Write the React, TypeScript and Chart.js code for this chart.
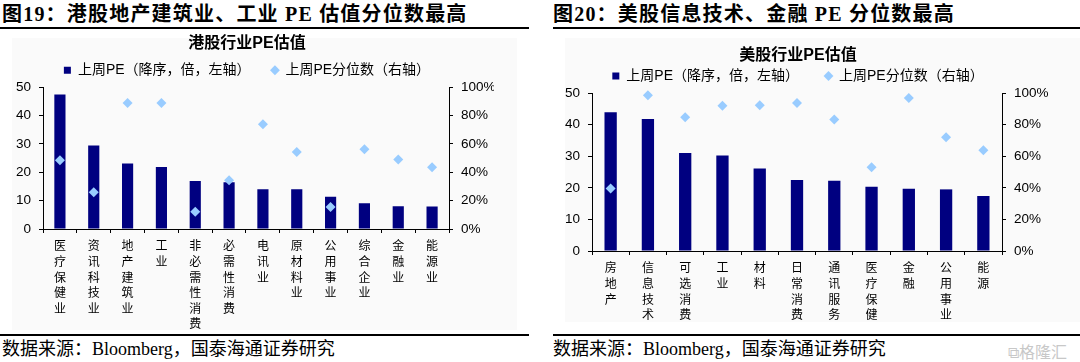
import React, { useEffect, useRef } from "react";
import { Chart, registerables } from "chart.js";

Chart.register(...registerables);

// ---------- data ----------
const hkCategories = ["医疗保健业", "资讯科技业", "地产建筑业", "工业", "非必需性消费", "必需性消费", "电讯业", "原材料业", "公用事业", "综合企业", "金融业", "能源业"];
const hkPE = [47.4, 29.4, 23.1, 21.9, 16.9, 16.5, 14.0, 14.0, 11.4, 9.1, 8.0, 7.9];
const hkPct = [48.5, 25.9, 88.8, 88.8, 12.1, 34.3, 73.9, 54.3, 15.6, 56.2, 49.0, 43.6];

const usCategories = ["房地产", "信息技术", "可选消费", "工业", "材料", "日常消费", "通讯服务", "医疗保健", "金融", "公用事业", "能源"];
const usPE = [43.9, 41.8, 31.0, 30.2, 26.1, 22.5, 22.2, 20.3, 19.7, 19.5, 17.4];
const usPct = [39.6, 98.5, 84.6, 92.0, 92.2, 93.7, 83.2, 53.0, 96.8, 72.0, 63.8];

const seriesNames = ["上周PE（降序，倍，左轴）", "上周PE分位数（右轴）"];
const peAxis = { min: 0, max: 50, step: 10 };
const pctAxis = { min: 0, max: 100, step: 20 };

const BAR_COLOR = "#000080";
const DIAMOND_COLOR = "#99ccff";
const SANS = "'Liberation Sans', 'Noto Sans CJK SC', sans-serif";
const CJK = "'Noto Sans CJK SC', sans-serif";

type Layout = {
  width: number;
  height: number;
  padL: number;
  padR: number;
  wL: number;
  wR: number;
  titleTop: number;
  titleLH: number;
  legendPad: number;
  legendGap: string;
  xH: number;
};

function makeConfig(title: string, cats: string[], pe: number[], pct: number[], L: Layout): any {
  const tickFont = { family: SANS, size: 13.5 };
  const axisBorder = { display: true, color: "#000", width: 1 };
  return {
    type: "bar",
    data: {
      labels: cats.map((c) => Array.from(c)),
      datasets: [
        {
          type: "bar",
          label: seriesNames[0],
          data: pe,
          backgroundColor: BAR_COLOR,
          borderWidth: 0,
          barPercentage: 0.33,
          categoryPercentage: 1.0,
          yAxisID: "y",
          order: 2,
        },
        {
          type: "line",
          label: seriesNames[1],
          data: pct,
          showLine: false,
          clip: false,
          pointStyle: "rectRot",
          pointRadius: 5,
          pointHoverRadius: 5,
          pointBackgroundColor: DIAMOND_COLOR,
          pointBorderColor: DIAMOND_COLOR,
          pointBorderWidth: 0,
          borderColor: DIAMOND_COLOR,
          backgroundColor: DIAMOND_COLOR,
          yAxisID: "y1",
          order: 1,
        },
      ],
    },
    options: {
      animation: false,
      responsive: false,
      devicePixelRatio: 1,
      layout: { padding: { left: L.padL, right: L.padR, top: 0, bottom: 0 } },
      plugins: {
        tooltip: { enabled: false },
        title: {
          display: true,
          text: title,
          color: "#000",
          font: { family: SANS, size: 16, weight: "bold", lineHeight: L.titleLH },
          padding: { top: L.titleTop, bottom: 0 },
        },
        legend: {
          display: true,
          position: "top",
          labels: {
            usePointStyle: true,
            boxWidth: 7,
            boxHeight: 7,
            padding: L.legendPad,
            color: "#000",
            font: { family: SANS, size: 14 },
            generateLabels: (chart: any) => {
              const items = Chart.defaults.plugins.legend.labels.generateLabels(chart);
              items.sort((a: any, b: any) => a.datasetIndex - b.datasetIndex);
              return items.map((it: any, i: number) => ({
                ...it,
                text: i === 0 ? it.text + L.legendGap : it.text,
                pointStyle: i === 0 ? "rect" : "rectRot",
                fillStyle: i === 0 ? BAR_COLOR : DIAMOND_COLOR,
                strokeStyle: i === 0 ? BAR_COLOR : DIAMOND_COLOR,
                lineWidth: 0,
                fontColor: "#000",
              }));
            },
          },
        },
      },
      scales: {
        x: {
          offset: true,
          grid: { display: true, offset: true, drawOnChartArea: false, drawTicks: true, tickLength: 4, color: "#000" },
          border: axisBorder,
          ticks: {
            color: "#000",
            font: { family: CJK, size: 12, lineHeight: 1.3 },
            maxRotation: 0,
            minRotation: 0,
            autoSkip: false,
            padding: 5,
          },
          afterFit: (s: any) => {
            s.height = L.xH;
          },
        },
        y: {
          position: "left",
          min: peAxis.min,
          max: peAxis.max,
          grid: { display: true, drawOnChartArea: false, drawTicks: true, tickLength: 4, color: "#000" },
          border: axisBorder,
          ticks: { stepSize: peAxis.step, color: "#000", font: tickFont, padding: 8 },
          afterFit: (s: any) => {
            s.width = L.wL;
          },
        },
        y1: {
          position: "right",
          min: pctAxis.min,
          max: pctAxis.max,
          grid: { display: true, drawOnChartArea: false, drawTicks: true, tickLength: 4, color: "#000" },
          border: axisBorder,
          ticks: { stepSize: pctAxis.step, color: "#000", font: tickFont, padding: 8, callback: (v: any) => v + "%" },
          afterFit: (s: any) => {
            s.width = L.wR;
          },
        },
      },
    },
  };
}

function ChartCanvas(props: { title: string; cats: string[]; pe: number[]; pct: number[]; L: Layout; left: number; top: number }) {
  const ref = useRef<HTMLCanvasElement | null>(null);
  useEffect(() => {
    if (!ref.current) return;
    const chart = new Chart(ref.current, makeConfig(props.title, props.cats, props.pe, props.pct, props.L));
    return () => chart.destroy();
  }, []);
  return (
    <canvas
      ref={ref}
      width={props.L.width}
      height={props.L.height}
      style={{ position: "absolute", left: props.left, top: props.top, width: props.L.width, height: props.L.height }}
    />
  );
}

const headStyle: React.CSSProperties = {
  position: "absolute",
  top: 2,
  fontFamily: "'Liberation Serif', 'Noto Sans CJK SC', serif",
  fontWeight: 700,
  fontSize: 20,
  letterSpacing: 1.2,
  lineHeight: "24px",
  whiteSpace: "nowrap",
  color: "#000",
};
const srcStyle: React.CSSProperties = {
  position: "absolute",
  top: 338,
  fontFamily: "'Liberation Serif', 'Noto Sans CJK SC', serif",
  fontSize: 18,
  lineHeight: "22px",
  whiteSpace: "nowrap",
  color: "#000",
};

export default function App() {
  const leftL: Layout = {
    width: 510, height: 302, padL: 0, padR: 16, wL: 43, wR: 45,
    titleTop: 4, titleLH: 1.2, legendPad: 10, legendGap: "\u3000 ", xH: 103,
  };
  const rightL: Layout = {
    width: 535, height: 300, padL: 0, padR: 29, wL: 47, wR: 49,
    titleTop: 18, titleLH: 1.0, legendPad: 5, legendGap: "\u3000\u3000", xH: 79,
  };
  return (
    <div style={{ position: "absolute", left: 0, top: 0, width: 1080, height: 362, background: "#fff", overflow: "hidden" }}>
      <div style={{ ...headStyle, left: 2 }}>图19：港股地产建筑业、工业 PE 估值分位数最高</div>
      <div style={{ position: "absolute", left: 0, top: 27, width: 529, height: 2, background: "#000" }} />
      <div style={{ ...headStyle, left: 553 }}>图20：美股信息技术、金融 PE 分位数最高</div>
      <div style={{ position: "absolute", left: 553, top: 27, width: 527, height: 2, background: "#000" }} />

      <div style={{ position: "absolute", left: 12, top: 38, width: 505, height: 292, background: "#fafafa" }} />
      <div style={{ position: "absolute", left: 565, top: 38, width: 515, height: 284, background: "#fafafa" }} />

      <ChartCanvas title="港股行业PE估值" cats={hkCategories} pe={hkPE} pct={hkPct} L={leftL} left={0} top={30} />
      <ChartCanvas title="美股行业PE估值" cats={usCategories} pe={usPE} pct={usPct} L={rightL} left={545} top={30} />

      <div style={{ position: "absolute", left: 0, top: 334, width: 529, height: 2, background: "#000" }} />
      <div style={{ position: "absolute", left: 553, top: 334, width: 527, height: 2, background: "#000" }} />
      <div style={{ ...srcStyle, left: 2 }}>数据来源：Bloomberg，国泰海通证券研究</div>
      <div style={{ ...srcStyle, left: 553 }}>数据来源：Bloomberg，国泰海通证券研究</div>
      <div style={{ position: "absolute", left: 1008, top: 339, fontFamily: CJK, fontSize: 16, color: "#c8c8c8", whiteSpace: "nowrap" }}>
        ⧉格隆汇
      </div>
    </div>
  );
}
